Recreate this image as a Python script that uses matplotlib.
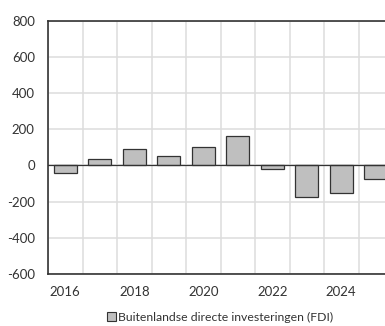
import matplotlib
matplotlib.use("Agg")
import matplotlib.pyplot as plt
from matplotlib.patches import Patch
import numpy as np

years = [2016, 2017, 2018, 2019, 2020, 2021, 2022, 2023, 2024, 2025]
fdi = [-42, 36, 91, 51, 100, 165, -19, -174, -154, -76]
tick_years = [2016, 2018, 2020, 2022, 2024]
yticks = [-600, -400, -200, 0, 200, 400, 600, 800]
series_name = "Buitenlandse directe investeringen (FDI)"

plt.rcParams['font.family'] = ['Lato', 'DejaVu Sans']

fig = plt.figure(figsize=(3.85, 3.26), dpi=100)
ax = fig.add_axes([48/385, 52/326, 345/385, 253.3/326])

x = np.arange(len(years))
ax.bar(x, fdi, width=0.67, color='#bfbfbf', edgecolor='#333333', linewidth=0.9, zorder=3)
ax.axhline(0, color='#333333', linewidth=0.9, zorder=4)

ax.set_xlim(-0.5, len(years) - 0.5)
ax.set_ylim(-600, 800)
ax.set_yticks(yticks)
ax.set_yticklabels([str(v) for v in yticks])
ax.set_xticks([years.index(y) for y in tick_years])
ax.set_xticklabels([str(y) for y in tick_years])
ax.set_xticks(np.arange(len(years) + 1) - 0.5, minor=True)

ax.grid(False)
ax.yaxis.grid(True, color='#dddddd', linewidth=1.1, zorder=0)
ax.xaxis.grid(True, which='minor', color='#dddddd', linewidth=1.1, zorder=0)
ax.tick_params(axis='both', which='both', length=0, labelsize=9.5, colors='#333333')
ax.tick_params(axis='x', pad=9)
ax.tick_params(axis='y', pad=9.5)
for lab in ax.get_yticklabels():
    lab.set_horizontalalignment('right')

for s in ['left', 'bottom', 'top']:
    ax.spines[s].set_color('#333333')
    ax.spines[s].set_linewidth(1.2)
ax.spines['right'].set_visible(False)

handle = Patch(facecolor='#bfbfbf', edgecolor='#333333', linewidth=0.8)
fig.legend([handle], [series_name], loc='center', bbox_to_anchor=(220/385, 1 - 317/326),
           frameon=False, fontsize=8.8, handlelength=0.75, handleheight=0.75,
           handletextpad=0.2, labelcolor='#333333')

fig.savefig("out.png", dpi=100)
